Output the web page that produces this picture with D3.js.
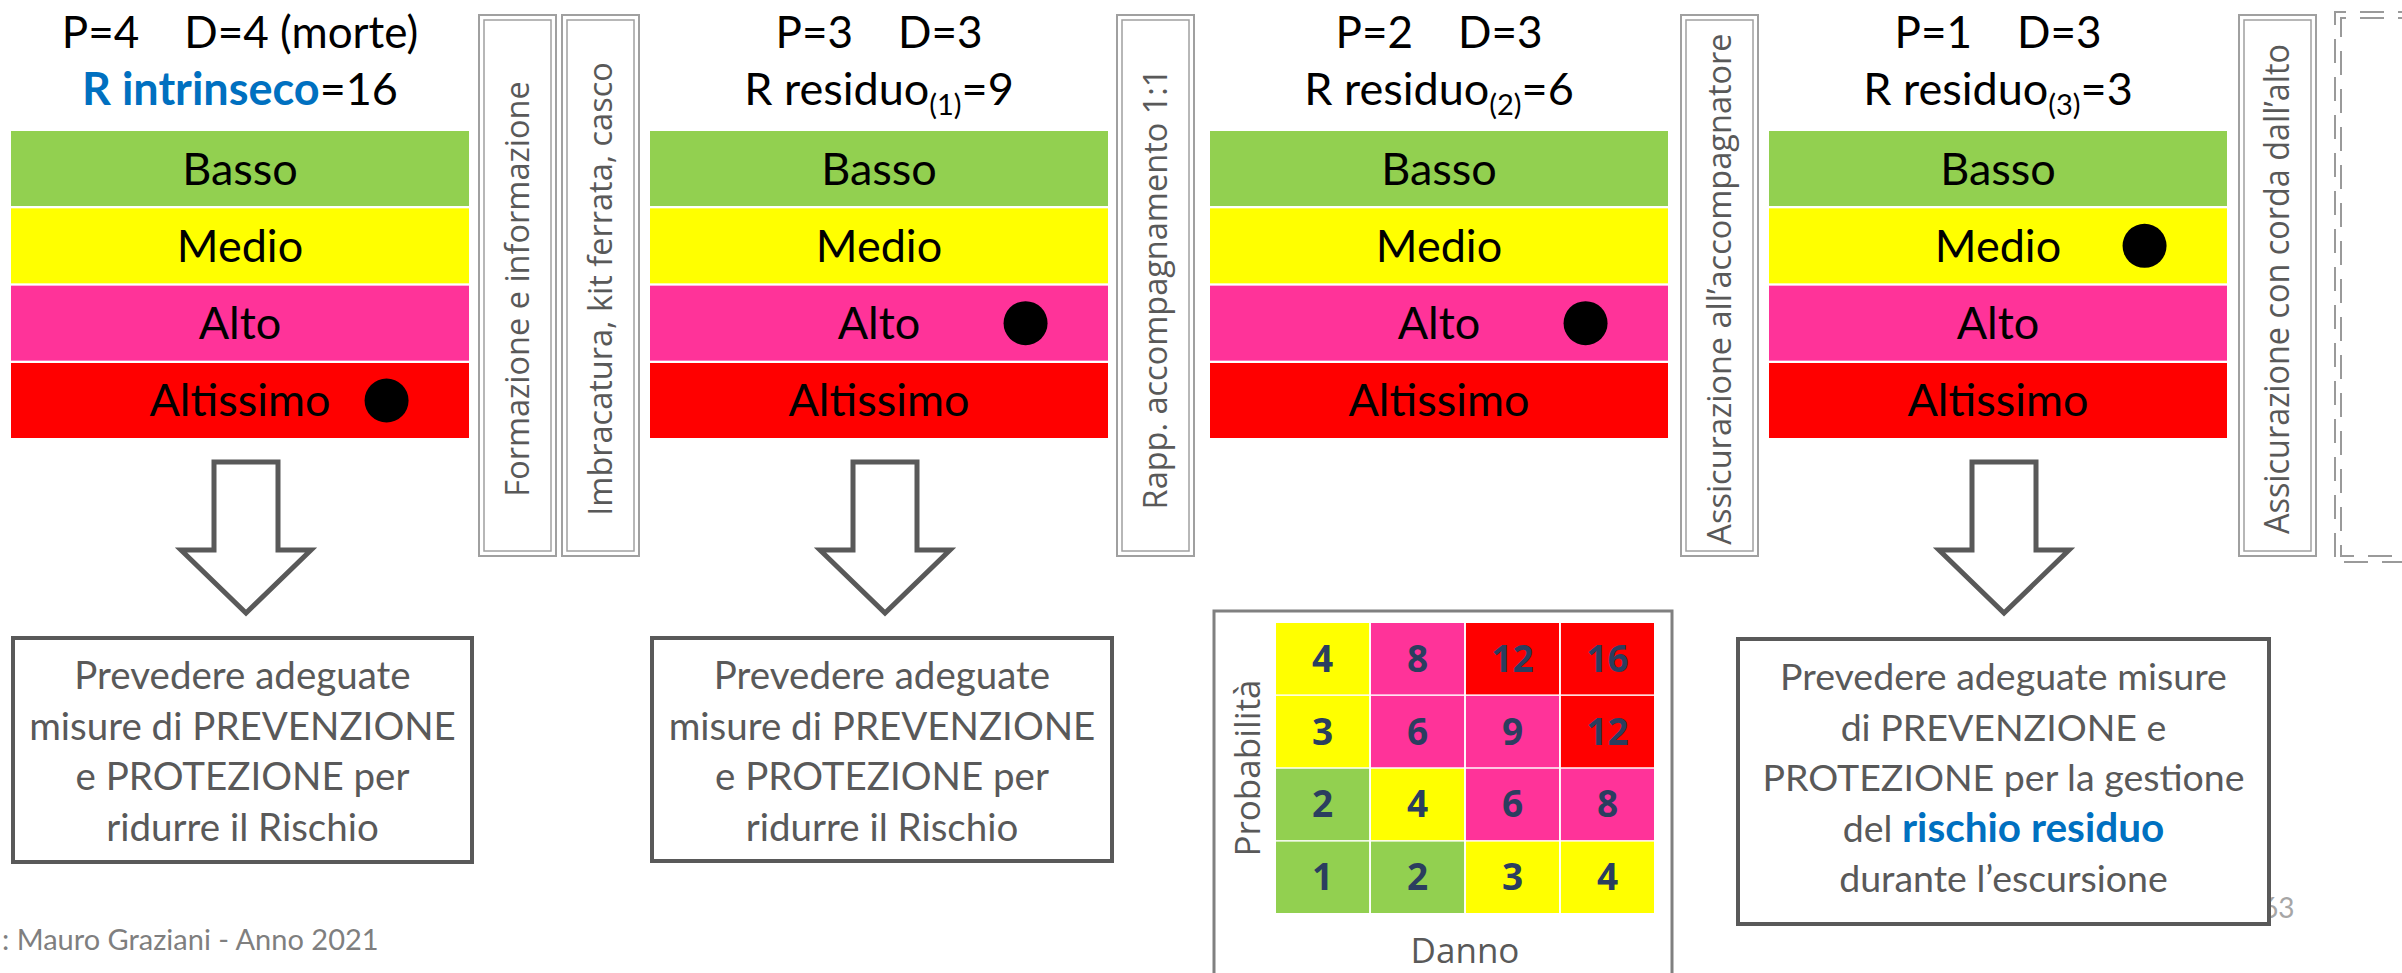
<!DOCTYPE html>
<html>
<head>
<meta charset="utf-8">
<script src="https://cdn.jsdelivr.net/npm/d3@7"></script>
<style>
  body { margin: 0; background: #fff; }
  svg { display: block; }
</style>
</head>
<body>
<div id="chart"></div>
<script>
// risk levels (rows of every panel)
let levels = ["Basso", "Medio", "Alto", "Altissimo"];
let levelColors = ["#92D050", "#FFFF00", "#FF3399", "#FF0000"];

// the four steps of the risk assessment
let probValues = [4, 3, 2, 1];
let damageValues = [4, 3, 3, 3];
let damageNotes = [" (morte)", "", "", ""];
let riskNames = ["R intrinseco", "R residuo", "R residuo", "R residuo"];
let riskSubs = ["", "(1)", "(2)", "(3)"];
let riskValues = [16, 9, 6, 3];
let riskLevels = ["Altissimo", "Alto", "Alto", "Medio"];

// measures applied between steps
let measures = ["Formazione e informazione", "Imbracatura, kit ferrata, casco",
  "Rapp. accompagnamento 1:1", "Assicurazione all\u2019accompagnatore",
  "Assicurazione con corda dall\u2019alto"];

// risk matrix (rows = probabilita 4..1, cols = danno 1..4)
let matrixProb = [4, 3, 2, 1];
let matrixDamage = [1, 2, 3, 4];
let matrixValues = [
  [4, 8, 12, 16],
  [3, 6, 9, 12],
  [2, 4, 6, 8],
  [1, 2, 3, 4]
];

// notes under the arrows
let noteRisk = ["Prevedere adeguate", "misure di PREVENZIONE", "e PROTEZIONE per", "ridurre il Rischio"];
let noteResidual = ["Prevedere adeguate misure", "di PREVENZIONE e", "PROTEZIONE per la gestione", "del |rischio residuo", "durante l\u2019escursione"];

let footerText = ": Mauro Graziani - Anno 2021";
let pageNumber = "63";

// layout
let W = 2402, H = 973;
let PANEL_X = [11, 650, 1210, 1769];
let BAND_W = 458;
let MEASURE_X = [479, 562, 1117, 1681, 2239];
let MEASURE_W = 77;
let ARROW_PANELS = [0, 1, 3];
let BOX_X = [13, 652, null, 1738];
let BOX_W = [459, 460, null, 531];
let BOX_H = [224, 223, null, 285];
let BOX_FONT = [38.5, 38.5, null, 37.5];

let CAL = "Lato, 'Open Sans', sans-serif";
let SEG = "'Open Sans', 'Noto Sans', sans-serif";
let GREY = "#595959";

const svg = d3.select("#chart")
  .append("svg")
  .attr("width", W)
  .attr("height", H);

svg.append("rect").attr("width", W).attr("height", H).attr("fill", "#fff");

const yBand = d3.scaleBand()
  .domain(levels)
  .range([131, 438])
  .paddingInner(0.03);

const color = d3.scaleOrdinal().domain(levels).range(levelColors);

// ---- panels ----
const panels = svg.selectAll("g.panel")
  .data(d3.range(4))
  .join("g")
  .attr("class", "panel")
  .attr("transform", i => `translate(${PANEL_X[i]},0)`);

panels.selectAll("rect")
  .data(levels)
  .join("rect")
  .attr("x", 0)
  .attr("y", d => yBand(d))
  .attr("width", BAND_W)
  .attr("height", yBand.bandwidth())
  .attr("fill", d => color(d));

panels.selectAll("text.lvl")
  .data(levels)
  .join("text")
  .attr("class", "lvl")
  .attr("x", BAND_W / 2)
  .attr("y", d => yBand(d) + yBand.bandwidth() / 2 + 16)
  .attr("text-anchor", "middle")
  .attr("font-family", CAL)
  .attr("font-size", 45)
  .attr("fill", "#000")
  .text(d => d);

// dot marking the current level
panels.append("circle")
  .attr("cx", BAND_W * 0.82)
  .attr("cy", i => yBand(riskLevels[i]) + yBand.bandwidth() / 2)
  .attr("r", 22)
  .attr("fill", "#000");

// header: P and D
panels.append("text")
  .attr("x", BAND_W / 2)
  .attr("y", 48)
  .attr("text-anchor", "middle")
  .attr("font-family", CAL)
  .attr("font-size", 44)
  .attr("xml:space", "preserve")
  .style("white-space", "pre")
  .text(i => `P=${probValues[i]}    D=${damageValues[i]}${damageNotes[i]}`);

// header: risk value
const rt = panels.append("text")
  .attr("x", BAND_W / 2)
  .attr("y", 105)
  .attr("text-anchor", "middle")
  .attr("font-family", CAL)
  .attr("font-size", 45);
rt.append("tspan")
  .attr("fill", i => i === 0 ? "#0070C0" : "#000")
  .attr("font-weight", i => i === 0 ? "bold" : "normal")
  .text(i => riskNames[i]);
rt.append("tspan")
  .attr("font-size", 29)
  .attr("dy", 10)
  .text(i => riskSubs[i]);
rt.append("tspan")
  .attr("dy", i => riskSubs[i] ? -10 : 0)
  .text(i => "=" + riskValues[i]);

// ---- measure boxes (double border, vertical text) ----
const mg = svg.selectAll("g.measure")
  .data(measures)
  .join("g")
  .attr("class", "measure")
  .attr("transform", (d, i) => `translate(${MEASURE_X[i]},15)`);

mg.append("rect")
  .attr("width", MEASURE_W).attr("height", 541)
  .attr("fill", "#fff").attr("stroke", "#A0A0A0").attr("stroke-width", 2);
mg.append("rect")
  .attr("x", 5).attr("y", 5)
  .attr("width", MEASURE_W - 10).attr("height", 531)
  .attr("fill", "none").attr("stroke", "#A0A0A0").attr("stroke-width", 1.5);

mg.append("text")
  .attr("transform", `translate(${MEASURE_W / 2},274) rotate(-90)`)
  .attr("text-anchor", "middle")
  .attr("dy", "0.35em")
  .attr("font-family", SEG)
  .attr("font-size", (d, i) => i === 4 ? 34 : 32.5)
  .attr("fill", GREY)
  .attr("textLength", (d, i) => i === 4 ? 490 : null)
  .attr("lengthAdjust", "spacingAndGlyphs")
  .text(d => d);

// dashed double box at the right edge
const dash = svg.append("g").attr("fill", "none").attr("stroke", "#9A9A9A")
  .attr("stroke-width", 2).attr("stroke-dasharray", "24,14");
[0, 6].forEach(o => {
  dash.append("path")
    .attr("d", `M${W + 20},${12 + o} L${2335 + o},${12 + o} L${2335 + o},${562 - o} L${W + 20},${562 - o}`);
});

// ---- arrows ----
function arrowPath(cx) {
  const p = d3.path();
  p.moveTo(cx - 32, 462);
  p.lineTo(cx + 32, 462);
  p.lineTo(cx + 32, 550);
  p.lineTo(cx + 65, 550);
  p.lineTo(cx, 613);
  p.lineTo(cx - 65, 550);
  p.lineTo(cx - 32, 550);
  p.closePath();
  return p.toString();
}

svg.selectAll("path.arrow")
  .data(ARROW_PANELS)
  .join("path")
  .attr("class", "arrow")
  .attr("d", i => arrowPath(PANEL_X[i] + BAND_W / 2 + 6))
  .attr("fill", "#fff")
  .attr("stroke", GREY)
  .attr("stroke-width", 5);

// ---- footer and page number ----
svg.append("text")
  .attr("x", 2).attr("y", 950)
  .attr("font-family", CAL).attr("font-size", 29)
  .attr("fill", "#7F7F7F")
  .text(footerText);

svg.append("text")
  .attr("x", 2262).attr("y", 918)
  .attr("font-family", CAL).attr("font-size", 28)
  .attr("fill", "#A6A6A6")
  .text(pageNumber);

// ---- note boxes ----
ARROW_PANELS.forEach(i => {
  const lines = i === 3 ? noteResidual : noteRisk;
  const g = svg.append("g").attr("transform", `translate(${BOX_X[i]},${i === 3 ? 639 : 638})`);
  g.append("rect")
    .attr("width", BOX_W[i]).attr("height", BOX_H[i])
    .attr("fill", "#fff").attr("stroke", GREY).attr("stroke-width", 4);
  const t = g.selectAll("text")
    .data(lines)
    .join("text")
    .attr("x", BOX_W[i] / 2)
    .attr("y", (d, k) => 51 + k * 50.5)
    .attr("text-anchor", "middle")
    .attr("font-family", CAL)
    .attr("font-size", BOX_FONT[i])
    .attr("fill", GREY);
  t.each(function (d) {
    const parts = d.split("|");
    const el = d3.select(this);
    el.append("tspan").text(parts[0]);
    if (parts[1]) {
      el.append("tspan").attr("fill", "#0070C0").attr("font-weight", "bold")
        .attr("font-size", BOX_FONT[i] + 3).text(parts[1]);
    }
  });
});

// ---- risk matrix ----
svg.append("rect")
  .attr("x", 1214).attr("y", 611)
  .attr("width", 458).attr("height", 400)
  .attr("fill", "#fff").attr("stroke", "#808080").attr("stroke-width", 3);

const xm = d3.scaleBand().domain(matrixDamage).range([1276, 1654]).paddingInner(0.02);
const ym = d3.scaleBand().domain(matrixProb).range([623, 913]).paddingInner(0.02);
const riskLevelOf = d3.scaleThreshold().domain([3, 5, 10]).range(levels);

const cells = matrixValues.flatMap((row, r) =>
  row.map((v, c) => ({ p: matrixProb[r], d: matrixDamage[c], v: v })));

const mat = svg.append("g");
mat.selectAll("rect")
  .data(cells)
  .join("rect")
  .attr("x", d => xm(d.d))
  .attr("y", d => ym(d.p))
  .attr("width", xm.bandwidth())
  .attr("height", ym.bandwidth())
  .attr("fill", d => color(riskLevelOf(d.v)));

mat.selectAll("text")
  .data(cells)
  .join("text")
  .attr("x", d => xm(d.d) + xm.bandwidth() / 2)
  .attr("y", d => ym(d.p) + ym.bandwidth() / 2 + 13)
  .attr("text-anchor", "middle")
  .attr("font-family", SEG)
  .attr("font-weight", "bold")
  .attr("font-size", 37)
  .attr("fill", "#2B3E5F")
  .text(d => d.v);

svg.append("text")
  .attr("transform", `translate(1248,${(623 + 913) / 2}) rotate(-90)`)
  .attr("text-anchor", "middle")
  .attr("dy", "0.35em")
  .attr("font-family", SEG)
  .attr("font-size", 35)
  .attr("fill", GREY)
  .text("Probabilità");

svg.append("text")
  .attr("x", (1276 + 1654) / 2)
  .attr("y", 963)
  .attr("text-anchor", "middle")
  .attr("font-family", SEG)
  .attr("font-size", 35)
  .attr("fill", GREY)
  .text("Danno");
</script>
</body>
</html>
